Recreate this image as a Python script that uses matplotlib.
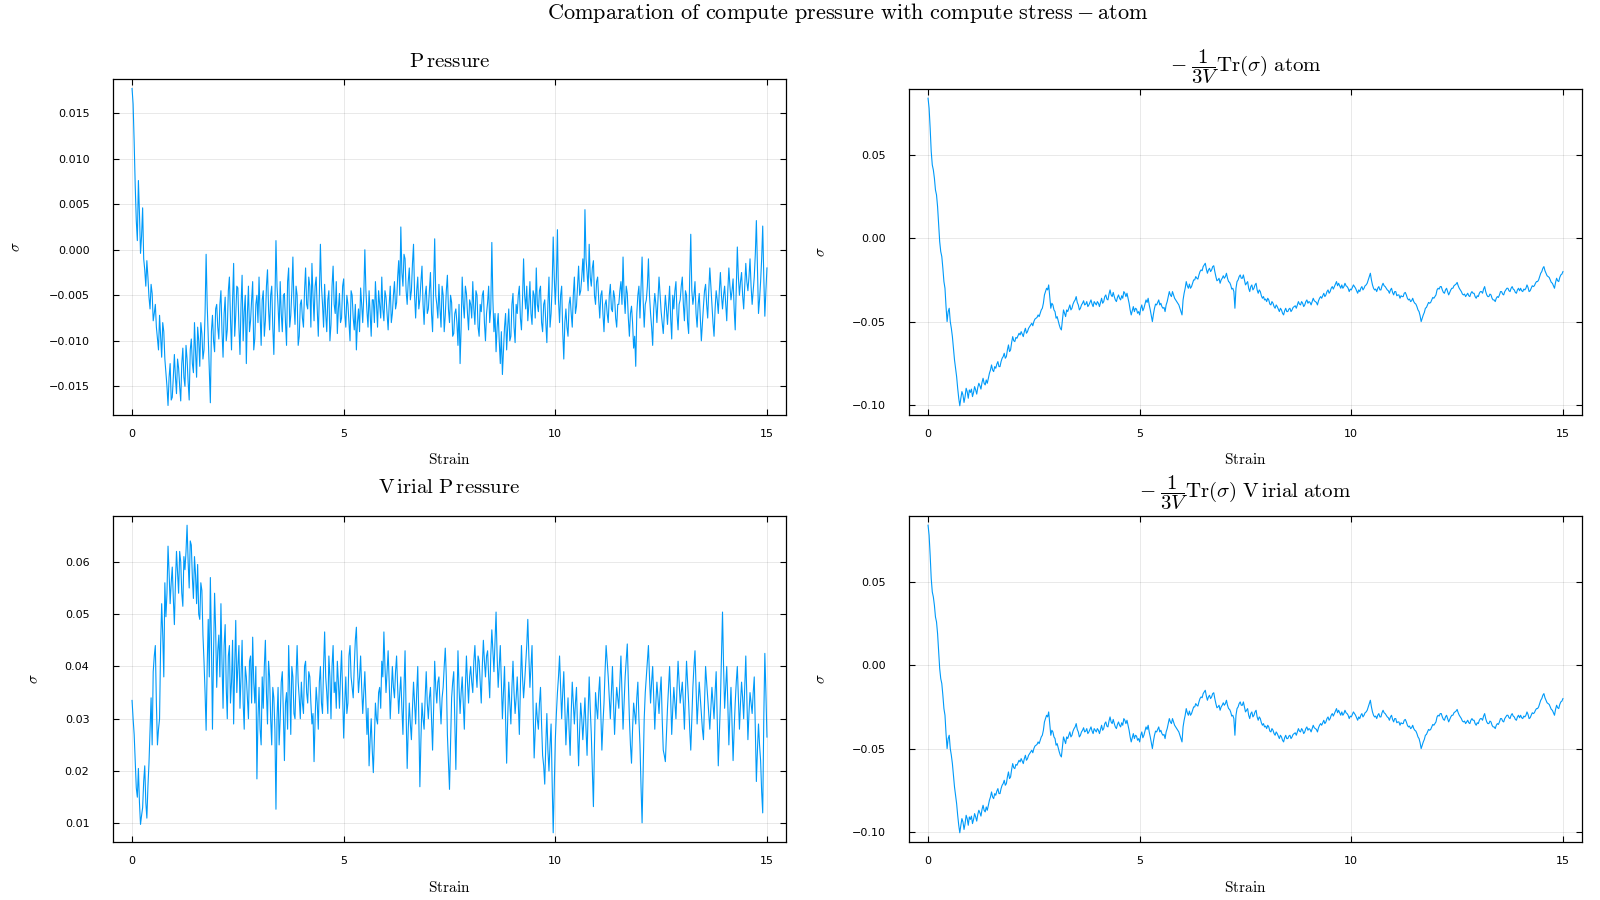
import numpy as np
import matplotlib
matplotlib.use("Agg")
import matplotlib.pyplot as plt

# ---------------- data ----------------
# samples at strain 0.00, 0.05, ..., 15.00
pressure = [
    0.0177, 0.0118, 0.0032, 0.0076, -0.0004, 0.0046, -0.0022, -0.0012, -0.0052, -0.0038,
    -0.0078, -0.0060, -0.0098, -0.0072, -0.0118, -0.0090, -0.0135, -0.0171, -0.0125, -0.0162,
    -0.0115, -0.0158, -0.0130, -0.0166, -0.0108, -0.0150, -0.0120, -0.0165, -0.0098, -0.0135,
    -0.0112, -0.0085, -0.0128, -0.0092, -0.0110, -0.0005, -0.0095, -0.0168, -0.0072, -0.0112,
    -0.0060, -0.0098, -0.0045, -0.0118, -0.0052, -0.0088, -0.0030, -0.0110, -0.0015, -0.0072,
    -0.0042, -0.0115, -0.0028, -0.0068, -0.0125, -0.0040, -0.0078, -0.0035, -0.0098, -0.0050,
    -0.0030, -0.0105, -0.0045, -0.0078, -0.0022, -0.0088, -0.0040, -0.0115, 0.0010, -0.0062,
    -0.0035, -0.0090, -0.0048, -0.0105, -0.0020, -0.0072, -0.0008, -0.0082, -0.0050, -0.0095,
    -0.0055, -0.0085, -0.0020, -0.0065, -0.0040, -0.0015, -0.0078, -0.0030, -0.0095, 0.0006,
    -0.0060, -0.0038, -0.0090, -0.0045, -0.0082, -0.0018, -0.0070, -0.0092, -0.0048, -0.0075,
    -0.0032, -0.0085, -0.0060, -0.0100, -0.0050, -0.0088, -0.0110, -0.0065, -0.0042, -0.0080,
    0.0000, -0.0068, -0.0045, -0.0095, -0.0055, -0.0035, -0.0085, -0.0060, -0.0030, -0.0078,
    -0.0052, -0.0088, -0.0040, -0.0070, -0.0035, -0.0058, -0.0012, 0.0025, -0.0040, -0.0010,
    -0.0060, -0.0020, -0.0045, 0.0006, -0.0075, -0.0030, -0.0055, -0.0018, -0.0082, -0.0040,
    -0.0065, -0.0025, -0.0090, 0.0012, -0.0060, -0.0038, -0.0085, -0.0050, -0.0072, -0.0028,
    -0.0080, -0.0058, -0.0092, -0.0065, -0.0105, -0.0125, -0.0030, -0.0075, -0.0048, -0.0088,
    -0.0060, -0.0035, -0.0082, -0.0050, -0.0095, -0.0068, -0.0045, -0.0100, -0.0058, -0.0080,
    0.0008, -0.0090, -0.0112, -0.0070, -0.0125, -0.0137, -0.0085, -0.0110, -0.0065, -0.0095,
    -0.0048, -0.0102, -0.0070, -0.0040, -0.0088, -0.0010, -0.0065, -0.0078, -0.0035, -0.0082,
    -0.0050, -0.0020, -0.0068, -0.0040, -0.0090, -0.0055, -0.0102, -0.0030, -0.0070, 0.0014,
    -0.0060, 0.0022, -0.0080, -0.0040, -0.0120, -0.0065, -0.0095, -0.0052, -0.0085, -0.0030,
    -0.0062, -0.0018, -0.0045, -0.0010, 0.0044, -0.0025, 0.0006, -0.0040, -0.0012, -0.0060,
    -0.0030, -0.0075, -0.0045, -0.0090, -0.0055, -0.0080, -0.0038, -0.0068, -0.0052, -0.0085,
    -0.0060, -0.0035, -0.0008, -0.0070, -0.0048, -0.0095, -0.0062, -0.0108, -0.0128, -0.0050,
    -0.0075, -0.0008, -0.0085, -0.0055, -0.0010, -0.0070, -0.0105, -0.0048, -0.0080, -0.0030,
    -0.0068, -0.0092, -0.0050, -0.0082, -0.0040, -0.0098, -0.0065, -0.0035, -0.0088, -0.0055,
    -0.0030, -0.0078, -0.0050, -0.0092, 0.0017, -0.0060, -0.0035, -0.0085, -0.0048, -0.0100,
    -0.0062, -0.0038, -0.0075, -0.0020, -0.0058, -0.0095, -0.0045, -0.0070, -0.0025, -0.0065,
    -0.0040, -0.0078, -0.0020, -0.0055, -0.0032, -0.0088, 0.0003, -0.0050, -0.0025, -0.0065,
    -0.0015, -0.0045, -0.0010, -0.0060, -0.0030, 0.0032, -0.0070, -0.0035, 0.0026, -0.0073,
    -0.0020,
]
# samples at strain 0.025, 0.075, ..., 14.975
pressure_mid = [
    0.0160, 0.0070, 0.0010, 0.0040, 0.0015, -0.0010, -0.0040, -0.0030, -0.0065, -0.0048,
    -0.0070, -0.0085, -0.0110, -0.0095, -0.0080, -0.0120, -0.0150, -0.0140, -0.0165, -0.0140,
    -0.0140, -0.0120, -0.0150, -0.0125, -0.0140, -0.0105, -0.0145, -0.0110, -0.0125, -0.0080,
    -0.0140, -0.0100, -0.0080, -0.0120, -0.0070, -0.0060, -0.0130, -0.0090, -0.0100, -0.0065,
    -0.0085, -0.0060, -0.0090, -0.0070, -0.0100, -0.0045, -0.0075, -0.0055, -0.0095, -0.0040,
    -0.0085, -0.0060, -0.0100, -0.0050, -0.0070, -0.0090, -0.0055, -0.0110, -0.0060, -0.0080,
    -0.0070, -0.0055, -0.0095, -0.0040, -0.0065, -0.0050, -0.0085, -0.0060, -0.0040, -0.0090,
    -0.0070, -0.0050, -0.0080, -0.0035, -0.0085, -0.0045, -0.0060, -0.0040, -0.0105, -0.0060,
    -0.0075, -0.0045, -0.0060, -0.0030, -0.0085, -0.0050, -0.0040, -0.0065, -0.0050, -0.0040,
    -0.0085, -0.0070, -0.0055, -0.0100, -0.0040, -0.0060, -0.0035, -0.0065, -0.0080, -0.0040,
    -0.0070, -0.0050, -0.0080, -0.0045, -0.0075, -0.0060, -0.0080, -0.0090, -0.0060, -0.0050,
    -0.0045, -0.0085, -0.0070, -0.0055, -0.0080, -0.0060, -0.0045, -0.0075, -0.0065, -0.0045,
    -0.0070, -0.0060, -0.0080, -0.0050, -0.0065, -0.0030, -0.0050, -0.0025, -0.0005, -0.0045,
    -0.0035, -0.0055, -0.0015, -0.0050, -0.0045, -0.0065, -0.0035, -0.0060, -0.0050, -0.0070,
    -0.0045, -0.0070, -0.0040, -0.0050, -0.0075, -0.0065, -0.0040, -0.0090, -0.0045, -0.0065,
    -0.0050, -0.0095, -0.0070, -0.0080, -0.0060, -0.0085, -0.0060, -0.0040, -0.0070, -0.0055,
    -0.0075, -0.0065, -0.0045, -0.0085, -0.0060, -0.0050, -0.0080, -0.0070, -0.0040, -0.0065,
    -0.0055, -0.0070, -0.0085, -0.0100, -0.0090, -0.0110, -0.0070, -0.0085, -0.0100, -0.0060,
    -0.0085, -0.0060, -0.0050, -0.0075, -0.0055, -0.0050, -0.0040, -0.0060, -0.0070, -0.0045,
    -0.0075, -0.0060, -0.0045, -0.0080, -0.0060, -0.0080, -0.0060, -0.0085, -0.0040, -0.0030,
    -0.0030, -0.0055, -0.0050, -0.0090, -0.0080, -0.0085, -0.0060, -0.0070, -0.0050, -0.0070,
    -0.0040, -0.0050, -0.0030, -0.0035, -0.0010, -0.0045, -0.0030, -0.0020, -0.0050, -0.0035,
    -0.0055, -0.0050, -0.0070, -0.0060, -0.0070, -0.0050, -0.0065, -0.0045, -0.0075, -0.0060,
    -0.0045, -0.0060, -0.0050, -0.0040, -0.0075, -0.0070, -0.0080, -0.0095, -0.0070, -0.0040,
    -0.0040, -0.0055, -0.0060, -0.0040, -0.0050, -0.0085, -0.0065, -0.0060, -0.0055, -0.0050,
    -0.0080, -0.0070, -0.0065, -0.0060, -0.0075, -0.0050, -0.0045, -0.0070, -0.0060, -0.0040,
    -0.0060, -0.0045, -0.0080, -0.0030, -0.0045, -0.0050, -0.0070, -0.0060, -0.0075, -0.0080,
    -0.0045, -0.0060, -0.0045, -0.0040, -0.0080, -0.0065, -0.0055, -0.0045, -0.0050, -0.0050,
    -0.0060, -0.0045, -0.0040, -0.0045, -0.0065, -0.0040, -0.0030, -0.0035, -0.0050, -0.0040,
    -0.0035, -0.0030, -0.0040, -0.0045, -0.0005, -0.0020, -0.0055, -0.0010, -0.0030, -0.0045,
]

virial_pressure = [
    0.0335, 0.0270, 0.0168, 0.0205, 0.0098, 0.0130, 0.0210, 0.0110, 0.0215, 0.0340,
    0.0390, 0.0440, 0.0250, 0.0300, 0.0520, 0.0380, 0.0495, 0.0630, 0.0520, 0.0590,
    0.0480, 0.0620, 0.0540, 0.0600, 0.0515, 0.0585, 0.0670, 0.0550, 0.0632, 0.0530,
    0.0575, 0.0595, 0.0490, 0.0545, 0.0410, 0.0278, 0.0490, 0.0570, 0.0280, 0.0540,
    0.0360, 0.0460, 0.0520, 0.0320, 0.0480, 0.0300, 0.0440, 0.0370, 0.0290, 0.0488,
    0.0400, 0.0320, 0.0450, 0.0280, 0.0380, 0.0300, 0.0420, 0.0456, 0.0330, 0.0185,
    0.0360, 0.0250, 0.0320, 0.0450, 0.0290, 0.0380, 0.0250, 0.0340, 0.0127, 0.0360,
    0.0300, 0.0390, 0.0220, 0.0350, 0.0440, 0.0270, 0.0380, 0.0300, 0.0440, 0.0340,
    0.0370, 0.0310, 0.0410, 0.0330, 0.0380, 0.0290, 0.0218, 0.0360, 0.0280, 0.0400,
    0.0310, 0.0466, 0.0350, 0.0420, 0.0300, 0.0440, 0.0370, 0.0410, 0.0320, 0.0430,
    0.0263, 0.0380, 0.0330, 0.0440, 0.0360, 0.0400, 0.0475, 0.0350, 0.0420, 0.0310,
    0.0390, 0.0270, 0.0210, 0.0300, 0.0197, 0.0330, 0.0290, 0.0360, 0.0410, 0.0466,
    0.0350, 0.0430, 0.0300, 0.0400, 0.0340, 0.0420, 0.0310, 0.0380, 0.0270, 0.0430,
    0.0205, 0.0330, 0.0260, 0.0370, 0.0290, 0.0400, 0.0170, 0.0330, 0.0280, 0.0390,
    0.0300, 0.0360, 0.0240, 0.0410, 0.0330, 0.0380, 0.0290, 0.0360, 0.0435, 0.0270,
    0.0165, 0.0340, 0.0390, 0.0203, 0.0430, 0.0310, 0.0380, 0.0280, 0.0420, 0.0330,
    0.0400, 0.0350, 0.0440, 0.0360, 0.0410, 0.0330, 0.0450, 0.0380, 0.0430, 0.0340,
    0.0470, 0.0390, 0.0504, 0.0360, 0.0440, 0.0300, 0.0400, 0.0215, 0.0370, 0.0290,
    0.0410, 0.0310, 0.0380, 0.0270, 0.0440, 0.0340, 0.0405, 0.0490, 0.0360, 0.0440,
    0.0225, 0.0330, 0.0280, 0.0360, 0.0230, 0.0175, 0.0310, 0.0200, 0.0290, 0.0082,
    0.0260, 0.0350, 0.0420, 0.0300, 0.0390, 0.0250, 0.0340, 0.0230, 0.0370, 0.0290,
    0.0360, 0.0210, 0.0330, 0.0260, 0.0340, 0.0230, 0.0380, 0.0270, 0.0132, 0.0350,
    0.0300, 0.0380, 0.0240, 0.0330, 0.0440, 0.0380, 0.0300, 0.0400, 0.0270, 0.0360,
    0.0320, 0.0420, 0.0280, 0.0380, 0.0443, 0.0300, 0.0215, 0.0330, 0.0290, 0.0370,
    0.0250, 0.0101, 0.0300, 0.0380, 0.0440, 0.0330, 0.0400, 0.0280, 0.0370, 0.0310,
    0.0380, 0.0240, 0.0218, 0.0320, 0.0400, 0.0270, 0.0360, 0.0300, 0.0410, 0.0330,
    0.0370, 0.0280, 0.0410, 0.0330, 0.0240, 0.0360, 0.0430, 0.0290, 0.0370, 0.0310,
    0.0260, 0.0400, 0.0340, 0.0280, 0.0360, 0.0300, 0.0390, 0.0210, 0.0330, 0.0504,
    0.0320, 0.0400, 0.0250, 0.0360, 0.0220, 0.0330, 0.0400, 0.0280, 0.0370, 0.0300,
    0.0420, 0.0260, 0.0350, 0.0310, 0.0380, 0.0180, 0.0290, 0.0220, 0.0120, 0.0425,
    0.0265,
]
virial_pressure_mid = [
    0.0300, 0.0220, 0.0150, 0.0140, 0.0115, 0.0180, 0.0140, 0.0170, 0.0280, 0.0250,
    0.0420, 0.0330, 0.0280, 0.0440, 0.0460, 0.0560, 0.0540, 0.0580, 0.0560, 0.0530,
    0.0560, 0.0580, 0.0620, 0.0540, 0.0610, 0.0620, 0.0600, 0.0640, 0.0570, 0.0610,
    0.0520, 0.0500, 0.0560, 0.0460, 0.0350, 0.0400, 0.0380, 0.0450, 0.0420, 0.0470,
    0.0430, 0.0380, 0.0410, 0.0440, 0.0360, 0.0420, 0.0330, 0.0450, 0.0400, 0.0350,
    0.0440, 0.0380, 0.0330, 0.0400, 0.0340, 0.0410, 0.0330, 0.0370, 0.0400, 0.0300,
    0.0280, 0.0380, 0.0400, 0.0350, 0.0410, 0.0300, 0.0360, 0.0280, 0.0300, 0.0250,
    0.0370, 0.0310, 0.0330, 0.0280, 0.0360, 0.0400, 0.0310, 0.0380, 0.0370, 0.0300,
    0.0330, 0.0400, 0.0350, 0.0390, 0.0330, 0.0310, 0.0300, 0.0330, 0.0370, 0.0330,
    0.0400, 0.0380, 0.0310, 0.0380, 0.0400, 0.0350, 0.0320, 0.0370, 0.0380, 0.0350,
    0.0330, 0.0310, 0.0420, 0.0380, 0.0340, 0.0450, 0.0400, 0.0380, 0.0360, 0.0350,
    0.0330, 0.0320, 0.0260, 0.0240, 0.0260, 0.0300, 0.0350, 0.0320, 0.0380, 0.0400,
    0.0390, 0.0370, 0.0350, 0.0360, 0.0390, 0.0360, 0.0350, 0.0320, 0.0360, 0.0310,
    0.0280, 0.0290, 0.0320, 0.0330, 0.0350, 0.0300, 0.0260, 0.0300, 0.0340, 0.0330,
    0.0340, 0.0300, 0.0320, 0.0360, 0.0370, 0.0330, 0.0340, 0.0400, 0.0380, 0.0220,
    0.0250, 0.0370, 0.0300, 0.0320, 0.0360, 0.0350, 0.0330, 0.0360, 0.0370, 0.0380,
    0.0370, 0.0410, 0.0390, 0.0420, 0.0370, 0.0400, 0.0410, 0.0420, 0.0380, 0.0420,
    0.0430, 0.0450, 0.0420, 0.0400, 0.0370, 0.0350, 0.0300, 0.0300, 0.0330, 0.0360,
    0.0350, 0.0340, 0.0330, 0.0360, 0.0380, 0.0370, 0.0440, 0.0420, 0.0400, 0.0320,
    0.0280, 0.0300, 0.0330, 0.0290, 0.0210, 0.0250, 0.0240, 0.0250, 0.0180, 0.0170,
    0.0310, 0.0380, 0.0360, 0.0350, 0.0320, 0.0300, 0.0280, 0.0310, 0.0330, 0.0330,
    0.0280, 0.0280, 0.0300, 0.0300, 0.0280, 0.0310, 0.0320, 0.0200, 0.0250, 0.0320,
    0.0350, 0.0310, 0.0290, 0.0390, 0.0410, 0.0340, 0.0350, 0.0330, 0.0320, 0.0340,
    0.0370, 0.0350, 0.0330, 0.0410, 0.0370, 0.0250, 0.0280, 0.0310, 0.0340, 0.0300,
    0.0170, 0.0200, 0.0350, 0.0410, 0.0380, 0.0370, 0.0340, 0.0330, 0.0340, 0.0350,
    0.0300, 0.0230, 0.0270, 0.0360, 0.0340, 0.0320, 0.0330, 0.0360, 0.0370, 0.0350,
    0.0330, 0.0350, 0.0370, 0.0280, 0.0300, 0.0400, 0.0360, 0.0330, 0.0340, 0.0280,
    0.0330, 0.0370, 0.0310, 0.0320, 0.0330, 0.0350, 0.0300, 0.0270, 0.0420, 0.0400,
    0.0360, 0.0330, 0.0310, 0.0290, 0.0280, 0.0370, 0.0340, 0.0330, 0.0340, 0.0360,
    0.0340, 0.0310, 0.0330, 0.0350, 0.0280, 0.0240, 0.0250, 0.0160, 0.0300, 0.0350,
]

stress_atom = [
    0.0840, 0.0660, 0.0440, 0.0360, 0.0260, 0.0080, -0.0080, -0.0180, -0.0300, -0.0500,
    -0.0420, -0.0540, -0.0660, -0.0780, -0.0900, -0.1005, -0.0920, -0.0985, -0.0900, -0.0960,
    -0.0925, -0.0950, -0.0890, -0.0935, -0.0870, -0.0905, -0.0840, -0.0880, -0.0870, -0.0810,
    -0.0760, -0.0800, -0.0780, -0.0740, -0.0770, -0.0720, -0.0690, -0.0710, -0.0640, -0.0670,
    -0.0590, -0.0620, -0.0600, -0.0570, -0.0560, -0.0590, -0.0540, -0.0560, -0.0530, -0.0510,
    -0.0500, -0.0480, -0.0460, -0.0450, -0.0420, -0.0340, -0.0300, -0.0280, -0.0420, -0.0400,
    -0.0440, -0.0470, -0.0520, -0.0550, -0.0430, -0.0470, -0.0440, -0.0400, -0.0420, -0.0380,
    -0.0350, -0.0400, -0.0420, -0.0390, -0.0400, -0.0380, -0.0400, -0.0370, -0.0410, -0.0390,
    -0.0380, -0.0410, -0.0360, -0.0380, -0.0340, -0.0370, -0.0310, -0.0350, -0.0350, -0.0380,
    -0.0340, -0.0370, -0.0360, -0.0330, -0.0330, -0.0390, -0.0460, -0.0410, -0.0420, -0.0450,
    -0.0460, -0.0400, -0.0420, -0.0370, -0.0360, -0.0430, -0.0500, -0.0420, -0.0400, -0.0370,
    -0.0390, -0.0420, -0.0440, -0.0380, -0.0320, -0.0350, -0.0340, -0.0370, -0.0390, -0.0420,
    -0.0460, -0.0330, -0.0260, -0.0300, -0.0300, -0.0270, -0.0250, -0.0240, -0.0220, -0.0190,
    -0.0170, -0.0150, -0.0210, -0.0180, -0.0190, -0.0165, -0.0230, -0.0250, -0.0270, -0.0240,
    -0.0240, -0.0210, -0.0260, -0.0280, -0.0300, -0.0420, -0.0260, -0.0230, -0.0240, -0.0220,
    -0.0280, -0.0260, -0.0320, -0.0280, -0.0300, -0.0270, -0.0330, -0.0320, -0.0360, -0.0370,
    -0.0380, -0.0370, -0.0400, -0.0390, -0.0420, -0.0410, -0.0440, -0.0430, -0.0460, -0.0420,
    -0.0440, -0.0420, -0.0430, -0.0410, -0.0420, -0.0380, -0.0400, -0.0390, -0.0400, -0.0370,
    -0.0380, -0.0400, -0.0360, -0.0380, -0.0400, -0.0360, -0.0360, -0.0330, -0.0340, -0.0310,
    -0.0320, -0.0290, -0.0290, -0.0260, -0.0270, -0.0300, -0.0300, -0.0270, -0.0290, -0.0320,
    -0.0310, -0.0280, -0.0300, -0.0330, -0.0320, -0.0290, -0.0300, -0.0280, -0.0250, -0.0210,
    -0.0280, -0.0310, -0.0320, -0.0290, -0.0310, -0.0270, -0.0290, -0.0310, -0.0330, -0.0300,
    -0.0340, -0.0320, -0.0340, -0.0360, -0.0350, -0.0330, -0.0340, -0.0370, -0.0380, -0.0360,
    -0.0390, -0.0410, -0.0440, -0.0500, -0.0460, -0.0420, -0.0400, -0.0390, -0.0370, -0.0360,
    -0.0340, -0.0300, -0.0290, -0.0310, -0.0330, -0.0300, -0.0340, -0.0310, -0.0300, -0.0280,
    -0.0265, -0.0300, -0.0320, -0.0340, -0.0350, -0.0330, -0.0350, -0.0320, -0.0330, -0.0360,
    -0.0350, -0.0320, -0.0330, -0.0290, -0.0340, -0.0350, -0.0340, -0.0370, -0.0380, -0.0350,
    -0.0340, -0.0320, -0.0340, -0.0310, -0.0300, -0.0320, -0.0290, -0.0310, -0.0330, -0.0300,
    -0.0300, -0.0320, -0.0310, -0.0280, -0.0320, -0.0300, -0.0290, -0.0270, -0.0260, -0.0230,
    -0.0200, -0.0170, -0.0210, -0.0230, -0.0250, -0.0270, -0.0300, -0.0240, -0.0260, -0.0220,
    -0.0200,
]
stress_atom_mid = [
    0.0780, 0.0520, 0.0410, 0.0290, 0.0190, -0.0020, -0.0110, -0.0260, -0.0410, -0.0440,
    -0.0500, -0.0590, -0.0730, -0.0830, -0.0960, -0.0960, -0.0940, -0.0950, -0.0920, -0.0910,
    -0.0905, -0.0925, -0.0910, -0.0895, -0.0885, -0.0865, -0.0870, -0.0850, -0.0840, -0.0790,
    -0.0790, -0.0770, -0.0755, -0.0770, -0.0740, -0.0710, -0.0720, -0.0670, -0.0680, -0.0625,
    -0.0615, -0.0595, -0.0585, -0.0580, -0.0575, -0.0560, -0.0570, -0.0540, -0.0520, -0.0525,
    -0.0485, -0.0475, -0.0470, -0.0430, -0.0390, -0.0320, -0.0310, -0.0350, -0.0390, -0.0430,
    -0.0480, -0.0495, -0.0540, -0.0490, -0.0450, -0.0430, -0.0420, -0.0430, -0.0395, -0.0370,
    -0.0385, -0.0430, -0.0400, -0.0375, -0.0395, -0.0410, -0.0385, -0.0395, -0.0380, -0.0400,
    -0.0390, -0.0385, -0.0390, -0.0350, -0.0365, -0.0335, -0.0340, -0.0325, -0.0370, -0.0355,
    -0.0360, -0.0345, -0.0320, -0.0350, -0.0360, -0.0430, -0.0435, -0.0440, -0.0425, -0.0440,
    -0.0420, -0.0435, -0.0395, -0.0385, -0.0400, -0.0465, -0.0455, -0.0395, -0.0385, -0.0400,
    -0.0410, -0.0415, -0.0400, -0.0350, -0.0340, -0.0320, -0.0360, -0.0380, -0.0400, -0.0440,
    -0.0370, -0.0300, -0.0285, -0.0275, -0.0290, -0.0250, -0.0230, -0.0245, -0.0200, -0.0195,
    -0.0160, -0.0185, -0.0190, -0.0200, -0.0170, -0.0200, -0.0255, -0.0240, -0.0250, -0.0225,
    -0.0230, -0.0240, -0.0265, -0.0305, -0.0320, -0.0300, -0.0250, -0.0220, -0.0240, -0.0250,
    -0.0270, -0.0300, -0.0290, -0.0310, -0.0280, -0.0310, -0.0310, -0.0345, -0.0350, -0.0365,
    -0.0360, -0.0395, -0.0380, -0.0410, -0.0400, -0.0425, -0.0420, -0.0450, -0.0435, -0.0440,
    -0.0425, -0.0440, -0.0415, -0.0405, -0.0400, -0.0395, -0.0380, -0.0410, -0.0380, -0.0390,
    -0.0385, -0.0380, -0.0375, -0.0385, -0.0375, -0.0350, -0.0345, -0.0350, -0.0320, -0.0330,
    -0.0300, -0.0305, -0.0275, -0.0285, -0.0285, -0.0280, -0.0290, -0.0285, -0.0300, -0.0305,
    -0.0295, -0.0290, -0.0315, -0.0310, -0.0300, -0.0310, -0.0285, -0.0270, -0.0230, -0.0250,
    -0.0300, -0.0305, -0.0300, -0.0310, -0.0285, -0.0285, -0.0300, -0.0315, -0.0310, -0.0325,
    -0.0320, -0.0345, -0.0340, -0.0345, -0.0350, -0.0325, -0.0360, -0.0365, -0.0375, -0.0380,
    -0.0395, -0.0430, -0.0465, -0.0480, -0.0445, -0.0415, -0.0385, -0.0385, -0.0355, -0.0350,
    -0.0310, -0.0305, -0.0290, -0.0325, -0.0310, -0.0320, -0.0325, -0.0300, -0.0285, -0.0275,
    -0.0285, -0.0310, -0.0335, -0.0335, -0.0340, -0.0345, -0.0330, -0.0330, -0.0350, -0.0345,
    -0.0330, -0.0320, -0.0305, -0.0320, -0.0350, -0.0335, -0.0360, -0.0370, -0.0360, -0.0355,
    -0.0320, -0.0335, -0.0320, -0.0300, -0.0315, -0.0300, -0.0305, -0.0325, -0.0310, -0.0315,
    -0.0315, -0.0305, -0.0300, -0.0295, -0.0315, -0.0285, -0.0285, -0.0260, -0.0250, -0.0210,
    -0.0180, -0.0195, -0.0225, -0.0235, -0.0265, -0.0285, -0.0265, -0.0255, -0.0235, -0.0215,
]

# the reference shows the same curve in both right-hand panels
stress_virial_atom = list(stress_atom)
stress_virial_atom_mid = list(stress_atom_mid)

strain_min, strain_max = 0.0, 15.0
x_ticks = [0, 5, 10, 15]
x_tick_labels = ["0", "5", "10", "15"]

pressure_yticks = [-0.015, -0.010, -0.005, 0.000, 0.005, 0.010, 0.015]
pressure_ylabels = ["\u22120.015", "\u22120.010", "\u22120.005", "0.000", "0.005", "0.010", "0.015"]
virial_yticks = [0.01, 0.02, 0.03, 0.04, 0.05, 0.06]
virial_ylabels = ["0.01", "0.02", "0.03", "0.04", "0.05", "0.06"]
stress_yticks = [-0.10, -0.05, 0.00, 0.05]
stress_ylabels = ["\u22120.10", "\u22120.05", "0.00", "0.05"]

main_title = r"$\mathrm{Comparation\ of\ compute\ pressure\ with\ compute\ stress} - \mathrm{atom}$"
titles = [
    r"$\mathrm{P\,ressure}$",
    r"$-\;\dfrac{1}{3V}\mathrm{Tr}(\sigma)\ \mathrm{atom}$",
    r"$\mathrm{V\,irial\ P\,ressure}$",
    r"$-\;\dfrac{1}{3V}\mathrm{Tr}(\sigma)\ \mathrm{V\,irial\ atom}$",
]
x_label = r"$\mathrm{Strain}$"
y_label = r"$\sigma$"

# ---------------- style ----------------
plt.rcParams["mathtext.fontset"] = "cm"
plt.rcParams["font.family"] = ["DejaVu Sans"]
LINE_COLOR = "#009AF9"
W, H = 1600, 900

fig = plt.figure(figsize=(16, 9), dpi=100)

# axes boxes in pixels: (left, top, right, bottom)
boxes = [
    (113, 79, 786, 415),
    (909, 89, 1582, 415),
    (113, 516, 786, 842),
    (909, 516, 1582, 842),
]
series = [
    (pressure, pressure_mid),
    (stress_atom, stress_atom_mid),
    (virial_pressure, virial_pressure_mid),
    (stress_virial_atom, stress_virial_atom_mid),
]
yticks = [pressure_yticks, stress_yticks, virial_yticks, stress_yticks]
ylabels = [pressure_ylabels, stress_ylabels, virial_ylabels, stress_ylabels]
title_gap = [12, 17, 23, 18]        # baseline of title above the frame, px
ylabel_x = [16, 821, 34, 821]       # centre of the sigma label, px

for i, (l, t, r, b) in enumerate(boxes):
    ax = fig.add_axes([l / W, 1 - b / H, (r - l) / W, (b - t) / H])
    main_vals, mid_vals = series[i]
    n = len(main_vals)
    m = len(mid_vals)
    y = np.empty(n + m)
    y[0::2] = main_vals
    y[1::2] = mid_vals
    x = np.linspace(strain_min, strain_max, len(y))
    ax.plot(x, y, color=LINE_COLOR, lw=0.8)

    xr = strain_max - strain_min
    ax.set_xlim(strain_min - 0.03 * xr, strain_max + 0.03 * xr)
    yr = y.max() - y.min()
    ax.set_ylim(y.min() - 0.03 * yr, y.max() + 0.03 * yr)

    ax.set_xticks(x_ticks)
    ax.set_xticklabels(x_tick_labels)
    ax.set_yticks(yticks[i])
    ax.set_yticklabels(ylabels[i])
    ax.tick_params(axis="both", direction="in", length=4, width=0.8,
                   top=True, right=True, labelsize=8, colors="black")
    ax.tick_params(axis="x", pad=10)
    ax.tick_params(axis="y", pad=17)
    ax.grid(True, color="black", alpha=0.1, lw=0.6)
    for s in ax.spines.values():
        s.set_linewidth(0.9)
        s.set_color("black")

    h = b - t
    w = r - l
    ax.set_title(titles[i], fontsize=15, pad=0, y=1 + title_gap[i] / h, va="baseline")
    ax.set_xlabel(x_label, fontsize=11)
    ax.xaxis.set_label_coords(0.5, -45 / h)
    ax.xaxis.label.set_va("center")
    ax.set_ylabel(y_label, fontsize=11)
    ax.yaxis.set_label_coords((ylabel_x[i] - l) / w, 0.5)
    ax.yaxis.label.set_va("center")

fig.text(847.5 / W, 1 - 19 / H, main_title, ha="center", va="baseline", fontsize=16)

fig.savefig("out.png", dpi=100, facecolor="white")
